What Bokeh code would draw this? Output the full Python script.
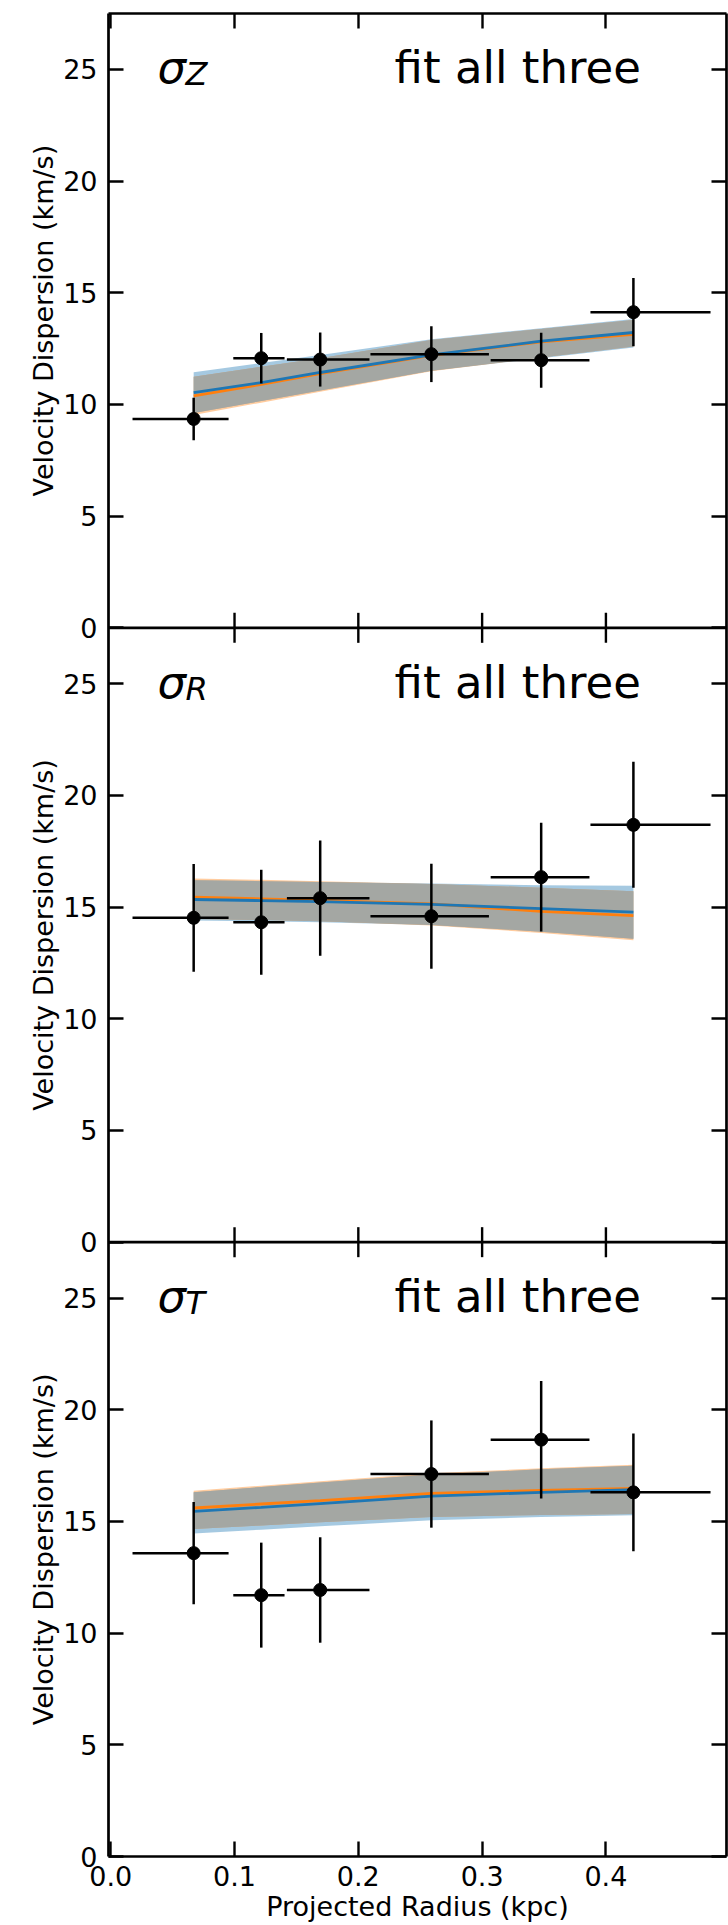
import numpy as np
from bokeh.plotting import figure
from bokeh.layouts import row
from bokeh.models import Range1d, LinearAxis, FixedTicker, Span, CustomJSTickFormatter, ColumnDataSource
from bokeh.embed import file_html
from bokeh.resources import INLINE
from bokeh.core.properties import value

# ---------------- data ----------------
radius = [0.067, 0.1216, 0.1692, 0.259, 0.3477, 0.4222]          # kpc, point positions
radius_bin_lo = [0.0176, 0.099, 0.1423, 0.2098, 0.3069, 0.3875]   # left end of x error bar
radius_bin_hi = [0.0952, 0.1404, 0.209, 0.3055, 0.3867, 0.4845]   # right end of x error bar

sigma_z = [9.35, 12.07, 12.01, 12.25, 11.98, 14.13]
sigma_z_err = [0.95, 1.13, 1.21, 1.25, 1.23, 1.53]
sigma_r = [14.52, 14.32, 15.40, 14.59, 16.34, 18.68]
sigma_r_err = [2.41, 2.35, 2.58, 2.35, 2.43, 2.82]
sigma_t = [13.58, 11.70, 11.93, 17.12, 18.66, 16.30]
sigma_t_err = [2.29, 2.35, 2.36, 2.40, 2.63, 2.64]

model_radius = [0.067, 0.1216, 0.1692, 0.259, 0.3477, 0.4222]

z_blue_med = [10.53, 10.98, 11.43, 12.22, 12.83, 13.22]
z_blue_lo = [9.62, 10.15, 10.62, 11.51, 12.07, 12.55]
z_blue_hi = [11.44, 11.85, 12.21, 12.92, 13.41, 13.82]
z_orange_med = [10.38, 10.90, 11.38, 12.20, 12.80, 13.14]
z_orange_lo = [9.53, 10.08, 10.57, 11.49, 12.10, 12.59]
z_orange_hi = [11.24, 11.69, 12.07, 12.88, 13.38, 13.78]

r_blue_med = [15.34, 15.29, 15.24, 15.12, 14.93, 14.77]
r_blue_lo = [14.40, 14.36, 14.32, 14.20, 13.90, 13.58]
r_blue_hi = [16.20, 16.16, 16.12, 16.05, 15.98, 15.96]
r_orange_med = [15.44, 15.37, 15.30, 15.14, 14.81, 14.62]
r_orange_lo = [14.47, 14.42, 14.36, 14.18, 13.84, 13.52]
r_orange_hi = [16.28, 16.22, 16.16, 16.03, 15.87, 15.71]

t_blue_med = [15.45, 15.63, 15.80, 16.13, 16.30, 16.42]
t_blue_lo = [14.46, 14.63, 14.78, 15.05, 15.20, 15.28]
t_blue_hi = [16.30, 16.54, 16.74, 17.10, 17.33, 17.49]
t_orange_med = [15.60, 15.78, 15.93, 16.25, 16.39, 16.48]
t_orange_lo = [14.66, 14.82, 14.96, 15.20, 15.29, 15.33]
t_orange_hi = [16.37, 16.60, 16.80, 17.16, 17.38, 17.54]

component_names = ["Z", "R", "T"]
fit_label = "fit all three"
y_tick_values = [0, 5, 10, 15, 20, 25]
x_tick_values = [0.0, 0.1, 0.2, 0.3, 0.4]
x_tick_labels = ["0.0", "0.1", "0.2", "0.3", "0.4"]
y_label = "Velocity Dispersion (km/s)"
x_label = "Projected Radius (kpc)"

# ---------------- layout / style ----------------
FONT = "DejaVu Sans"
PANEL_H = 27.5                       # y extent of one panel
panel_offsets = [2 * PANEL_H, PANEL_H, 0.0]   # top, middle, bottom panel
BLUE = "#1f77b4"
ORANGE = "#ff7f0e"
GRAY = "#a4a7a3"
SPINE_W = 2.7
TICK_W = 2.4
TICK_LEN = 15
LABEL_W = 60                         # width of the strip holding the y titles
BORDER_TOP = 13
BORDER_BOTTOM = 69

sigma_pos = (0.0377, 25.07)
sub_pos = (0.0603, 24.77)
fit_pos = (0.2293, 25.07)
ylabel_baseline_px = 43              # position of the rotated titles inside the strip

panels = [
    (sigma_z, sigma_z_err, z_blue_med, z_blue_lo, z_blue_hi, z_orange_med, z_orange_lo, z_orange_hi),
    (sigma_r, sigma_r_err, r_blue_med, r_blue_lo, r_blue_hi, r_orange_med, r_orange_lo, r_orange_hi),
    (sigma_t, sigma_t_err, t_blue_med, t_blue_lo, t_blue_hi, t_orange_med, t_orange_lo, t_orange_hi),
]

y_range = Range1d(0, 3 * PANEL_H)

# strip on the left that carries the three rotated y-axis titles
strip = figure(width=LABEL_W, height=1925, x_range=Range1d(0, LABEL_W), y_range=y_range,
               output_backend="svg", toolbar_location=None,
               x_axis_location=None, y_axis_location=None,
               min_border_left=0, min_border_right=0,
               min_border_top=BORDER_TOP, min_border_bottom=BORDER_BOTTOM)
strip.grid.visible = False
strip.outline_line_color = None
strip.text(x=[ylabel_baseline_px] * 3, y=[off + PANEL_H / 2 for off in panel_offsets],
           text=[y_label] * 3, angle=np.pi / 2,
           text_font=value(FONT), text_font_size="27px", text_color="black",
           text_align="center", text_baseline="alphabetic")

p = figure(width=728 - LABEL_W, height=1925,
           x_range=Range1d(-0.0018, 0.4974), y_range=y_range,
           output_backend="svg", toolbar_location=None,
           x_axis_location=None, y_axis_location=None,
           min_border_left=107 - LABEL_W, min_border_right=2,
           min_border_top=BORDER_TOP, min_border_bottom=BORDER_BOTTOM)
p.grid.visible = False
p.outline_line_color = None
p.background_fill_color = "white"
p.border_fill_color = "white"

mx = np.array(model_radius)
rx = np.array(radius)
for off, name, data in zip(panel_offsets, component_names, panels):
    vals, errs, bmed, blo, bhi, omed, olo, ohi = [np.array(d, dtype=float) for d in data]
    # credible bands
    p.varea(x=mx, y1=blo + off, y2=bhi + off, fill_color=BLUE, fill_alpha=0.4)
    p.varea(x=mx, y1=olo + off, y2=ohi + off, fill_color=ORANGE, fill_alpha=0.4)
    p.varea(x=mx, y1=np.maximum(blo, olo) + off, y2=np.minimum(bhi, ohi) + off,
            fill_color=GRAY, fill_alpha=1.0)
    # median model curves
    p.line(mx, omed + off, line_color=ORANGE, line_width=2.8)
    p.line(mx, bmed + off, line_color=BLUE, line_width=2.8)
    # data with error bars
    src = ColumnDataSource(dict(
        x=rx, y=vals + off, xl=np.array(radius_bin_lo), xh=np.array(radius_bin_hi),
        yl=vals - errs + off, yh=vals + errs + off))
    p.segment(x0="xl", y0="y", x1="xh", y1="y", source=src, line_color="black", line_width=2.5)
    p.segment(x0="x", y0="yl", x1="x", y1="yh", source=src, line_color="black", line_width=2.5)
    p.scatter(x="x", y="y", source=src, size=13, marker="circle",
              fill_color="black", line_color="black")
    # panel texts
    p.text(x=[sigma_pos[0]], y=[sigma_pos[1] + off], text=["σ"],
           text_font=value(FONT), text_font_style="italic", text_font_size="45px",
           text_baseline="alphabetic", text_align="left", text_color="black")
    p.text(x=[sub_pos[0]], y=[sub_pos[1] + off], text=[name],
           text_font=value(FONT), text_font_style="italic", text_font_size="32px",
           text_baseline="alphabetic", text_align="left", text_color="black")
    p.text(x=[fit_pos[0]], y=[fit_pos[1] + off], text=[fit_label],
           text_font=value(FONT), text_font_size="45px",
           text_baseline="alphabetic", text_align="left", text_color="black")

# ---------------- axes ----------------
def style_axis(ax):
    ax.axis_line_color = "black"
    ax.axis_line_width = SPINE_W
    ax.major_tick_in = TICK_LEN
    ax.major_tick_out = 0
    ax.major_tick_line_width = TICK_W
    ax.major_tick_line_color = "black"
    ax.minor_tick_in = 0
    ax.minor_tick_out = 0
    ax.major_label_text_font = FONT
    ax.major_label_text_font_size = "27px"
    ax.major_label_text_color = "black"

y_positions = [off + t for off in panel_offsets for t in y_tick_values]
y_overrides = {off + t: str(t) for off in panel_offsets for t in y_tick_values}

blank = CustomJSTickFormatter(code="return ''")

left = LinearAxis(ticker=FixedTicker(ticks=y_positions), major_label_overrides=y_overrides)
style_axis(left)
left.major_label_standoff = 11
p.add_layout(left, "left")

right = LinearAxis(ticker=FixedTicker(ticks=y_positions), formatter=blank)
style_axis(right)
right.major_label_standoff = 0
p.add_layout(right, "right")

bottom = LinearAxis(ticker=FixedTicker(ticks=x_tick_values),
                    major_label_overrides=dict(zip(x_tick_values, x_tick_labels)))
style_axis(bottom)
bottom.major_label_standoff = 9
bottom.axis_label = x_label
bottom.axis_label_text_font = FONT
bottom.axis_label_text_font_size = "27px"
bottom.axis_label_text_font_style = "normal"
bottom.axis_label_text_color = "black"
bottom.axis_label_standoff = 2
p.add_layout(bottom, "below")

top = LinearAxis(ticker=FixedTicker(ticks=x_tick_values), formatter=blank)
style_axis(top)
top.major_label_standoff = 0
p.add_layout(top, "above")

# spines and inward ticks where panels meet
for off in panel_offsets[:-1]:
    p.add_layout(Span(location=off, dimension="width", line_color="black", line_width=SPINE_W))
junction_x = [t for off in panel_offsets[:-1] for t in x_tick_values[1:]]
junction_y = [off for off in panel_offsets[:-1] for t in x_tick_values[1:]]
p.scatter(x=junction_x, y=junction_y, marker="dash", size=2 * TICK_LEN, angle=np.pi / 2,
          line_color="black", line_width=TICK_W)

layout = row(strip, p, spacing=0)
open("out.html", "w").write(file_html(layout, INLINE))
